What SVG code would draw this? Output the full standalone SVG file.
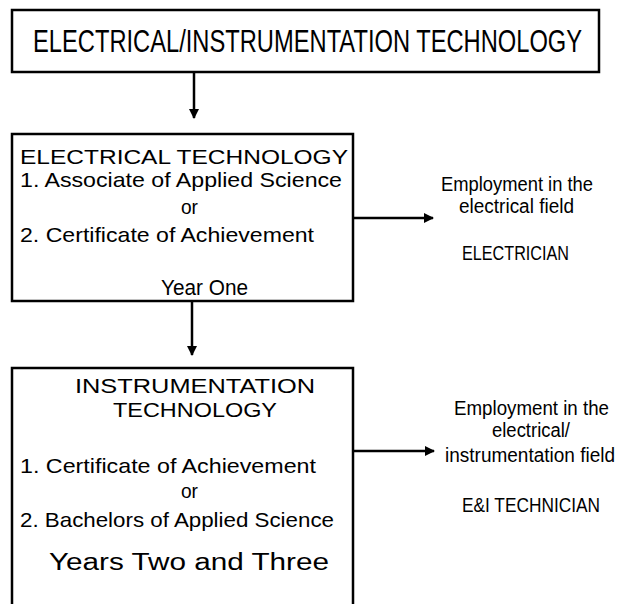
<svg xmlns="http://www.w3.org/2000/svg" width="624" height="604" viewBox="0 0 624 604">
  <style>
    .box { fill: #fff; stroke: #000; stroke-width: 2.5; }
    .line { fill: none; stroke: #000; stroke-width: 2.5; }
    .narrow { font-family: "Liberation Sans", Arial, sans-serif; fill: #000; }
    .wide { font-family: "Liberation Sans", Arial, sans-serif; fill: #000; }
  </style>
  <defs>
    <marker id="arrow" markerWidth="10" markerHeight="10" refX="9" refY="5" orient="auto" markerUnits="userSpaceOnUse" viewBox="0 0 10 10">
      <path d="M0,0 L10,5 L0,10 Z" fill="#000"/>
    </marker>
  </defs>
  <rect width="624" height="604" fill="#fff"/>

  <g id="connectors">
    <line class="line" x1="194" y1="72" x2="194" y2="118" marker-end="url(#arrow)"/>
    <line class="line" x1="192" y1="301" x2="192" y2="355" marker-end="url(#arrow)"/>
    <line class="line" x1="353" y1="218" x2="433" y2="218" marker-end="url(#arrow)"/>
    <line class="line" x1="353" y1="451" x2="434" y2="451" marker-end="url(#arrow)"/>
  </g>

  <g id="program">
    <rect class="box" x="12" y="10" width="587" height="62"/>
    <!-- condensed title: horizontal squeeze plus fitted length -->
    <text class="narrow" transform="translate(33,52) scale(0.78,1)" x="0" y="0" font-size="32" textLength="704" lengthAdjust="spacingAndGlyphs">ELECTRICAL/INSTRUMENTATION TECHNOLOGY</text>
  </g>

  <g id="electrical">
    <rect class="box" x="12" y="134" width="341" height="167"/>
    <text class="wide" x="20" y="164" font-size="21" textLength="328" lengthAdjust="spacingAndGlyphs">ELECTRICAL TECHNOLOGY</text>
    <text class="narrow" x="20" y="187" font-size="21" textLength="322" lengthAdjust="spacingAndGlyphs">1.  Associate of Applied Science</text>
    <text class="narrow" x="181" y="214" font-size="21" textLength="17" lengthAdjust="spacingAndGlyphs">or</text>
    <text class="narrow" x="20" y="242" font-size="21" textLength="294" lengthAdjust="spacingAndGlyphs">2.  Certificate of Achievement</text>
    <text class="wide" x="161" y="295" font-size="22" textLength="87" lengthAdjust="spacingAndGlyphs">Year One</text>
  </g>

  <g id="electrician">
    <text class="narrow" x="441" y="191" font-size="20" textLength="152" lengthAdjust="spacingAndGlyphs">Employment in the</text>
    <text class="narrow" x="459" y="213" font-size="20" textLength="115" lengthAdjust="spacingAndGlyphs">electrical field</text>
    <text class="narrow" x="462" y="260" font-size="20" textLength="107" lengthAdjust="spacingAndGlyphs">ELECTRICIAN</text>
  </g>

  <g id="instrumentation">
    <rect class="box" x="12" y="368" width="341" height="250"/>
    <text class="wide" x="75" y="393" font-size="20" textLength="240" lengthAdjust="spacingAndGlyphs">INSTRUMENTATION</text>
    <text class="wide" x="113" y="417" font-size="20" textLength="164" lengthAdjust="spacingAndGlyphs">TECHNOLOGY</text>
    <text class="narrow" x="20" y="473" font-size="21" textLength="296" lengthAdjust="spacingAndGlyphs">1.  Certificate of Achievement</text>
    <text class="narrow" x="181" y="498" font-size="21" textLength="17" lengthAdjust="spacingAndGlyphs">or</text>
    <text class="narrow" x="20" y="527" font-size="21" textLength="314" lengthAdjust="spacingAndGlyphs">2. Bachelors of Applied Science</text>
    <text class="wide" x="49" y="570" font-size="23" textLength="280" lengthAdjust="spacingAndGlyphs">Years Two and Three</text>
  </g>

  <g id="technician">
    <text class="narrow" x="454" y="415" font-size="20" textLength="155" lengthAdjust="spacingAndGlyphs">Employment in the</text>
    <text class="narrow" x="492" y="437" font-size="20" textLength="78" lengthAdjust="spacingAndGlyphs">electrical/</text>
    <text class="narrow" x="445" y="462" font-size="20" textLength="170" lengthAdjust="spacingAndGlyphs">instrumentation field</text>
    <text class="narrow" x="462" y="512" font-size="20" textLength="138" lengthAdjust="spacingAndGlyphs">E&amp;I TECHNICIAN</text>
  </g>
</svg>
